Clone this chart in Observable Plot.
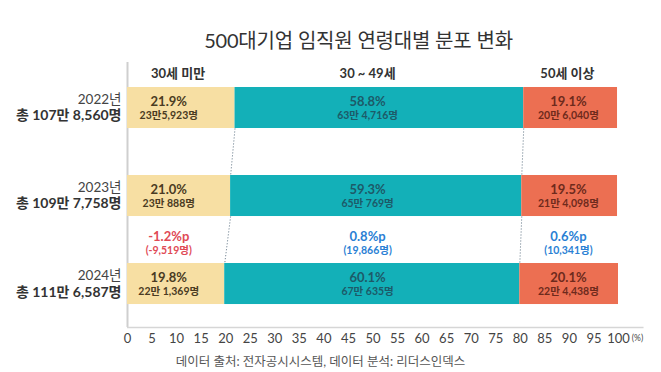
<!DOCTYPE html>
<html><head><meta charset="utf-8">
<script src="https://cdn.jsdelivr.net/npm/d3@7"></script>
<script src="https://cdn.jsdelivr.net/npm/@observablehq/plot@0.6"></script>
<style>
body{margin:0;background:#fff;font-family:Lato,"Noto Sans CJK KR",sans-serif;font-variant-numeric:lining-nums;}
#wrap{width:661px;height:372px;position:relative;overflow:hidden;}
#title{height:58px;text-align:center;font-size:20px;color:#333;line-height:20px;box-sizing:border-box;}
#title span{position:relative;top:30px;left:28px;letter-spacing:-0.2px;}
#foot{position:absolute;left:0;width:661px;top:351px;text-align:center;font-size:12.5px;color:#555;}
#foot span{position:relative;left:-10px}
svg{display:block;}
svg text{font-variant-numeric:lining-nums;}
</style></head><body>
<div id="wrap">
<div id="title"><span>500대기업 임직원 연령대별 분포 변화</span></div>
<div id="chart"></div>
<div id="foot"><span>데이터 출처: 전자공시시스템, 데이터 분석: 리더스인덱스</span></div>
</div>
<script>
const years = ["2022년", "2023년", "2024년"];
const totals = ["총 107만 8,560명", "총 109만 7,758명", "총 111만 6,587명"];
const groups = ["30세 미만", "30 ~ 49세", "50세 이상"];
const shares = [
  [21.9, 58.8, 19.1],
  [21.0, 59.3, 19.5],
  [19.8, 60.1, 20.1]
];
const counts = [
  ["23만5,923명", "63만 4,716명", "20만 6,040명"],
  ["23만 888명", "65만 769명", "21만 4,098명"],
  ["22만 1,369명", "67만 635명", "22만 4,438명"]
];
const changePct = ["-1.2%p", "0.8%p", "0.6%p"];
const changeCnt = ["(-9,519명)", "(19,866명)", "(10,341명)"];
const xTicks = [0,5,10,15,20,25,30,35,40,45,50,55,60,65,70,75,80,85,90,95,100];

// styling
const fills = ["#F7DFA3", "#13B0B8", "#EC6F52"];
const textCols = ["#4a3b22", "#1d5a68", "#6e2a1c"];
const changeCols = ["#e04a55", "#2a7fd4", "#2a7fd4"];
const labelX = [8.4, 48.9, 89.8];
const headerX = [10.3, 48.9, 89.6];
const half = 0.233;
const font = 'Lato, "Noto Sans CJK KR", sans-serif';

const segs = [];
years.forEach((yr, i) => {
  let c = 0;
  shares[i].forEach((v, g) => {
    segs.push({i, g, x1: c, x2: c + v, v, cnt: counts[i][g]});
    c += v;
  });
});
const links = [];
for (let i = 0; i < years.length - 1; i++) {
  let a = 0, b = 0;
  for (let g = 0; g < 2; g++) {
    a += shares[i][g]; b += shares[i + 1][g];
    links.push({x1: a, y1: i + half, x2: b, y2: i + 1 - half});
  }
}
const yrIdx = years.map((y, i) => i);
const grpIdx = groups.map((g, i) => i);

const chart = Plot.plot({
  width: 661, height: 292,
  marginLeft: 127, marginRight: 43, marginTop: 4, marginBottom: 23,
  style: {fontFamily: font, background: "#fff"},
  x: {domain: [0, 100], axis: null},
  y: {domain: [-0.517, 2.494], reverse: true, axis: null},
  marks: [
    Plot.ruleX([0], {y1: -0.517, y2: 2.494, stroke: "#cfcfcf", strokeWidth: 2}),
    Plot.ruleY([2.494], {x1: 0, x2: 105.2, stroke: "#d6d6d6", strokeWidth: 1.5}),
    Plot.rect(segs, {x1: "x1", x2: "x2", y1: d => d.i - half, y2: d => d.i + half, fill: d => fills[d.g]}),
    Plot.link(links, {x1: "x1", y1: "y1", x2: "x2", y2: "y2", stroke: "#5a6f80", strokeWidth: 1, strokeDasharray: "1,2"}),
    Plot.text(segs, {x: d => labelX[d.g], y: "i", text: d => d.v.toFixed(1) + "%", dy: -6, fontSize: 13, fontWeight: "bold", fill: d => textCols[d.g]}),
    Plot.text(segs, {x: d => labelX[d.g], y: "i", text: "cnt", dy: 8, fontSize: 10.5, fontWeight: "bold", fill: d => textCols[d.g], letterSpacing: "-0.3px"}),
    Plot.text(grpIdx, {x: g => headerX[g], y: -0.392, text: g => groups[g], fontSize: 13, fontWeight: "bold", fill: "#333"}),
    Plot.text(yrIdx, {x: 0, y: i => i, text: i => years[i], dx: -6, dy: -8, textAnchor: "end", fontSize: 13.5, fill: "#444"}),
    Plot.text(yrIdx, {x: 0, y: i => i, text: i => totals[i], dx: -6, dy: 8, textAnchor: "end", fontSize: 14, fontWeight: "bold", fill: "#333", letterSpacing: "-0.2px"}),
    Plot.text(grpIdx, {x: g => labelX[g], y: 1.5, text: g => changePct[g], dy: -3, fontSize: 13, fontWeight: "bold", fill: g => changeCols[g]}),
    Plot.text(grpIdx, {x: g => labelX[g], y: 1.5, text: g => changeCnt[g], dy: 11, fontSize: 10.5, fontWeight: "bold", fill: g => changeCols[g]}),
    Plot.text(xTicks, {x: d => d, y: 2.494, text: d => String(d), dy: 11, fontSize: 13, fill: "#444"}),
    Plot.text(["(%)"], {x: 100, y: 2.494, text: d => d, dx: 19, dy: 11, fontSize: 8.5, fill: "#444"})
  ]
});
document.getElementById("chart").appendChild(chart);
</script>
</body></html>
